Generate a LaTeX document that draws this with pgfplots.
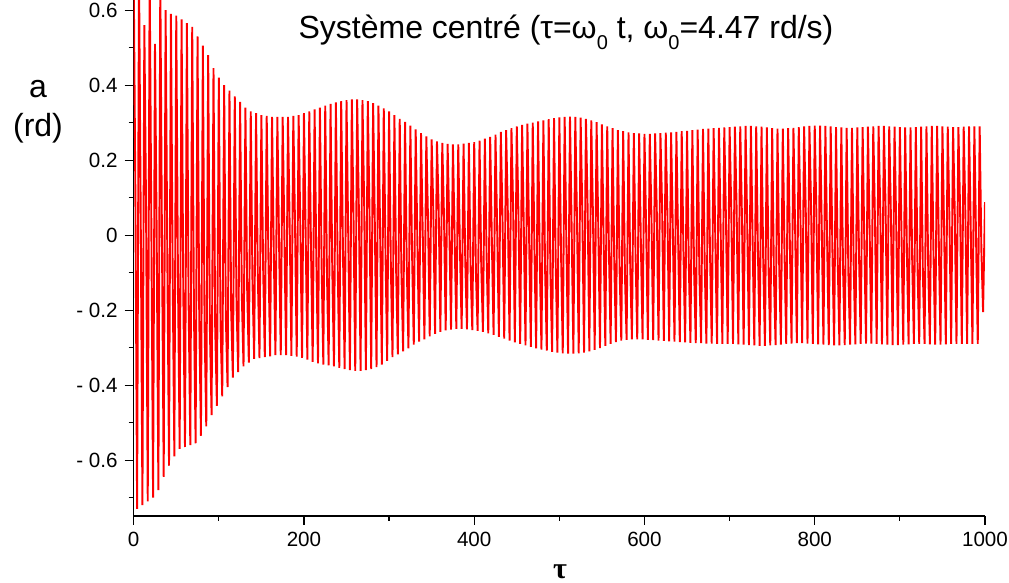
\documentclass[border=0pt]{standalone}
\usepackage{pgfplots}
\pgfplotsset{compat=1.18}
\usepackage{fontspec}
\setmainfont{Liberation Sans}
\newfontfamily\seriffont{Liberation Serif}
\newcommand\sub[1]{\raisebox{-0.6ex}{\fontsize{10}{10}\selectfont #1}}
\begin{document}
\begin{tikzpicture}
\useasboundingbox (-66.85pt,-33.5pt) rectangle (437.65pt,258pt);
\begin{axis}[
  at={(0pt,0pt)}, anchor=south west,
  scale only axis, width=425.65pt, height=258pt,
  xmin=0, xmax=1000, ymin=-0.749, ymax=0.627,
  axis lines=left,
  axis line style={-, line width=0.65pt, black},
  tick align=outside,
  major tick length=4.5pt, minor tick length=2.5pt,
  tick style={black, line width=0.6pt},
  xtick={0,200,400,600,800,1000},
  xticklabels={0,200,400,600,800,1000},
  minor xtick={100,300,500,700,900},
  ytick={-0.6,-0.4,-0.2,0,0.2,0.4,0.6},
  yticklabels={- 0.6,- 0.4,- 0.2,0,0.2,0.4,0.6},
  minor ytick={-0.7,-0.5,-0.3,-0.1,0.1,0.3,0.5},
  tick label style={font=\fontsize{10.3}{12}\selectfont, black},
  clip=true,
]
\addplot[red, line width=0.95pt, line join=miter, miter limit=2] coordinates {
(0,0.70) (2,0.10) (4,-0.73)
(6.25,0.70) (8.25,0.05) (10.25,-0.72)
(12.5,0.56) (14.5,0.08) (16.5,-0.71)
(18.75,0.70) (20.75,0.02) (22.75,-0.70)
(25,0.51) (27,0.00) (29,-0.68)
(31.25,0.68) (33.25,-0.03) (35.25,-0.645)
(37.5,0.60) (39.5,-0.06) (41.5,-0.615)
(43.75,0.59) (45.75,-0.10) (47.75,-0.59)
(50,0.585) (52,-0.12) (54,-0.57)
(56.25,0.575) (58.25,-0.15) (60.25,-0.565)
(62.5,0.565) (64.5,-0.18) (66.5,-0.56)
(68.75,0.555) (70.75,-0.20) (72.75,-0.555)
(75,0.53) (77,-0.22) (79,-0.535)
(81.25,0.505) (83.25,-0.24) (85.25,-0.51)
(87.5,0.48) (89.5,-0.25) (91.5,-0.48)
(93.75,0.445) (95.75,-0.25) (97.75,-0.455)
(100,0.42) (102,-0.24) (104,-0.43)
(106.25,0.40) (108.25,-0.22) (110.25,-0.405)
(112.5,0.385) (114.5,-0.20) (116.5,-0.38)
(118.75,0.37) (120.75,-0.18) (122.75,-0.365)
(125,0.355) (127,-0.16) (129,-0.35)
(131.25,0.34) (133.25,-0.14) (135.25,-0.34)
(137.5,0.33) (139.5,-0.12) (141.5,-0.33)
(143.75,0.325) (145.75,-0.10) (147.75,-0.328)
(150,0.32) (152,-0.08) (154,-0.325)
(156.25,0.318) (158.25,-0.06) (160.25,-0.323)
(162.5,0.315) (164.5,-0.04) (166.5,-0.32)
(168.75,0.315) (170.75,-0.02) (172.75,-0.32)
(175,0.315) (177,0.00) (179,-0.32)
(181.25,0.315) (183.25,0.02) (185.25,-0.322)
(187.5,0.318) (189.5,0.03) (191.5,-0.324)
(193.75,0.32) (195.75,0.02) (197.75,-0.327)
(200,0.325) (202,0.00) (204,-0.332)
(206.25,0.33) (208.25,-0.03) (210.25,-0.338)
(212.5,0.335) (214.5,-0.06) (216.5,-0.342)
(218.75,0.34) (220.75,-0.08) (222.75,-0.345)
(225,0.345) (227,-0.10) (229,-0.347)
(231.25,0.35) (233.25,-0.09) (235.25,-0.35)
(237.5,0.354) (239.5,-0.06) (241.5,-0.354)
(243.75,0.357) (245.75,-0.03) (247.75,-0.357)
(250,0.36) (252,0.00) (254,-0.36)
(256.25,0.362) (258.25,0.04) (260.25,-0.362)
(262.5,0.362) (264.5,0.07) (266.5,-0.362)
(268.75,0.36) (270.75,0.08) (272.75,-0.36)
(275,0.357) (277,0.06) (279,-0.357)
(281.25,0.352) (283.25,0.03) (285.25,-0.352)
(287.5,0.345) (289.5,0.00) (291.5,-0.345)
(293.75,0.338) (295.75,-0.04) (297.75,-0.335)
(300,0.33) (302,-0.07) (304,-0.325)
(306.25,0.32) (308.25,-0.09) (310.25,-0.318)
(312.5,0.31) (314.5,-0.10) (316.5,-0.31)
(318.75,0.302) (320.75,-0.08) (322.75,-0.302)
(325,0.292) (327,-0.05) (329,-0.292)
(331.25,0.282) (333.25,-0.02) (335.25,-0.284)
(337.5,0.272) (339.5,0.01) (341.5,-0.278)
(343.75,0.263) (345.75,0.04) (347.75,-0.27)
(350,0.255) (352,0.06) (354,-0.263)
(356.25,0.25) (358.25,0.07) (360.25,-0.258)
(362.5,0.246) (364.5,0.05) (366.5,-0.254)
(368.75,0.243) (370.75,0.02) (372.75,-0.252)
(375,0.242) (377,-0.01) (379,-0.25)
(381.25,0.242) (383.25,-0.04) (385.25,-0.25)
(387.5,0.244) (389.5,-0.07) (391.5,-0.251)
(393.75,0.246) (395.75,-0.09) (397.75,-0.253)
(400,0.248) (402,-0.10) (404,-0.255)
(406.25,0.252) (408.25,-0.08) (410.25,-0.258)
(412.5,0.257) (414.5,-0.05) (416.5,-0.262)
(418.75,0.262) (420.75,-0.02) (422.75,-0.266)
(425,0.268) (427,0.01) (429,-0.271)
(431.25,0.275) (433.25,0.04) (435.25,-0.276)
(437.5,0.28) (439.5,0.06) (441.5,-0.281)
(443.75,0.285) (445.75,0.07) (447.75,-0.286)
(450,0.29) (452,0.05) (454,-0.29)
(456.25,0.294) (458.25,0.02) (460.25,-0.294)
(462.5,0.297) (464.5,-0.01) (466.5,-0.298)
(468.75,0.30) (470.75,-0.04) (472.75,-0.302)
(475,0.303) (477,-0.07) (479,-0.305)
(481.25,0.306) (483.25,-0.09) (485.25,-0.308)
(487.5,0.309) (489.5,-0.10) (491.5,-0.311)
(493.75,0.312) (495.75,-0.08) (497.75,-0.313)
(500,0.314) (502,-0.05) (504,-0.315)
(506.25,0.315) (508.25,-0.02) (510.25,-0.316)
(512.5,0.316) (514.5,0.01) (516.5,-0.316)
(518.75,0.315) (520.75,0.04) (522.75,-0.315)
(525,0.313) (527,0.06) (529,-0.313)
(531.25,0.31) (533.25,0.07) (535.25,-0.31)
(537.5,0.306) (539.5,0.05) (541.5,-0.306)
(543.75,0.301) (545.75,0.02) (547.75,-0.301)
(550,0.295) (552,-0.01) (554,-0.295)
(556.25,0.29) (558.25,-0.04) (560.25,-0.29)
(562.5,0.285) (564.5,-0.07) (566.5,-0.285)
(568.75,0.28) (570.75,-0.09) (572.75,-0.281)
(575,0.277) (577,-0.10) (579,-0.279)
(581.25,0.274) (583.25,-0.08) (585.25,-0.278)
(587.5,0.272) (589.5,-0.05) (591.5,-0.278)
(593.75,0.271) (595.75,-0.02) (597.75,-0.278)
(600,0.27) (602,0.01) (604,-0.279)
(606.25,0.27) (608.25,0.04) (610.25,-0.28)
(612.5,0.271) (614.5,0.06) (616.5,-0.281)
(618.75,0.272) (620.75,0.07) (622.75,-0.282)
(625,0.273) (627,0.05) (629,-0.283)
(631.25,0.274) (633.25,0.02) (635.25,-0.284)
(637.5,0.275) (639.5,-0.01) (641.5,-0.285)
(643.75,0.277) (645.75,-0.04) (647.75,-0.286)
(650,0.278) (652,-0.07) (654,-0.287)
(656.25,0.28) (658.25,-0.09) (660.25,-0.288)
(662.5,0.281) (664.5,-0.10) (666.5,-0.288)
(668.75,0.283) (670.75,-0.08) (672.75,-0.289)
(675,0.284) (677,-0.05) (679,-0.289)
(681.25,0.285) (683.25,-0.02) (685.25,-0.29)
(687.5,0.286) (689.5,0.01) (691.5,-0.29)
(693.75,0.287) (695.75,0.04) (697.75,-0.29)
(700,0.288) (702,0.06) (704,-0.29)
(706.25,0.289) (708.25,0.07) (710.25,-0.291)
(712.5,0.29) (714.5,0.05) (716.5,-0.292)
(718.75,0.291) (720.75,0.02) (722.75,-0.293)
(725,0.291) (727,-0.01) (729,-0.294)
(731.25,0.29) (733.25,-0.04) (735.25,-0.295)
(737.5,0.289) (739.5,-0.07) (741.5,-0.295)
(743.75,0.287) (745.75,-0.09) (747.75,-0.294)
(750,0.285) (752,-0.10) (754,-0.293)
(756.25,0.284) (758.25,-0.08) (760.25,-0.292)
(762.5,0.284) (764.5,-0.05) (766.5,-0.29)
(768.75,0.285) (770.75,-0.02) (772.75,-0.289)
(775,0.286) (777,0.01) (779,-0.288)
(781.25,0.288) (783.25,0.04) (785.25,-0.288)
(787.5,0.29) (789.5,0.06) (791.5,-0.289)
(793.75,0.291) (795.75,0.07) (797.75,-0.29)
(800,0.292) (802,0.05) (804,-0.291)
(806.25,0.292) (808.25,0.02) (810.25,-0.292)
(812.5,0.291) (814.5,-0.01) (816.5,-0.293)
(818.75,0.29) (820.75,-0.04) (822.75,-0.294)
(825,0.288) (827,-0.07) (829,-0.294)
(831.25,0.287) (833.25,-0.09) (835.25,-0.293)
(837.5,0.286) (839.5,-0.10) (841.5,-0.292)
(843.75,0.286) (845.75,-0.08) (847.75,-0.291)
(850,0.287) (852,-0.05) (854,-0.29)
(856.25,0.288) (858.25,-0.02) (860.25,-0.289)
(862.5,0.289) (864.5,0.01) (866.5,-0.289)
(868.75,0.29) (870.75,0.04) (872.75,-0.29)
(875,0.291) (877,0.06) (879,-0.291)
(881.25,0.291) (883.25,0.07) (885.25,-0.292)
(887.5,0.29) (889.5,0.05) (891.5,-0.293)
(893.75,0.289) (895.75,0.02) (897.75,-0.293)
(900,0.288) (902,-0.01) (904,-0.292)
(906.25,0.287) (908.25,-0.04) (910.25,-0.291)
(912.5,0.287) (914.5,-0.07) (916.5,-0.29)
(918.75,0.288) (920.75,-0.09) (922.75,-0.29)
(925,0.289) (927,-0.10) (929,-0.29)
(931.25,0.29) (933.25,-0.08) (935.25,-0.291)
(937.5,0.291) (939.5,-0.05) (941.5,-0.292)
(943.75,0.291) (945.75,-0.02) (947.75,-0.292)
(950,0.29) (952,0.01) (954,-0.291)
(956.25,0.289) (958.25,0.04) (960.25,-0.29)
(962.5,0.288) (964.5,0.06) (966.5,-0.29)
(968.75,0.288) (970.75,0.07) (972.75,-0.29)
(975,0.289) (977,0.05) (979,-0.29)
(981.25,0.29) (983.25,0.02) (985.25,-0.29)
(987.5,0.29) (989.5,-0.01) (991.5,-0.29)
(993.75,0.29) (995.75,-0.04) (997.75,-0.205)
(1000,0.088)
};
\end{axis}
\node[anchor=base, font=\fontsize{16}{18}\selectfont] at (216.15pt,238.5pt) {Système centré (τ=ω\sub{0}\ t, ω\sub{0}=4.47 rd/s)};
\node[anchor=base, font=\fontsize{16}{18}\selectfont] at (-47.85pt,209pt) {a};
\node[anchor=base, font=\fontsize{16}{18}\selectfont] at (-47.85pt,189.5pt) {(rd)};
\node[anchor=base, inner sep=0pt, font=\seriffont\bfseries\fontsize{15}{17}\selectfont] at (213.15pt,-31.5pt) {τ};
\end{tikzpicture}
\end{document}
